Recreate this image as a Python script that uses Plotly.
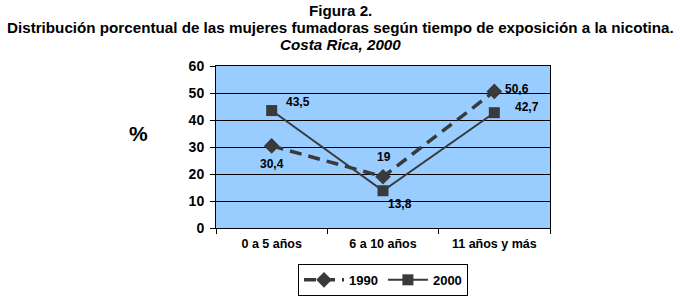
import plotly.graph_objects as go

categories = ["0 a 5 años", "6 a 10 años", "11 años y más"]
values_1990 = [30.4, 19, 50.6]
values_2000 = [43.5, 13.8, 42.7]
labels_1990 = ["30,4", "19", "50,6"]
labels_2000 = ["43,5", "13,8", "42,7"]
y_ticks = [0, 10, 20, 30, 40, 50, 60]

dark = "#3a3a3a"
font_family = "Liberation Sans, Arial, sans-serif"

fig = go.Figure()
fig.add_trace(go.Scatter(
    x=categories, y=values_1990, name="1990", mode="lines+markers",
    line=dict(color=dark, width=3.5, dash="12px,7px"),
    marker=dict(symbol="diamond", size=12, color=dark),
))
fig.add_trace(go.Scatter(
    x=categories, y=values_2000, name="2000", mode="lines+markers",
    line=dict(color=dark, width=2),
    marker=dict(symbol="square", size=11, color=dark),
))

# data labels
offs_1990 = [(0, -18), (1, 20), (23, 2)]
offs_2000 = [(26, 9), (17, -13), (33, 6)]
for c, v, t, (dx, dy) in zip(categories, values_1990, labels_1990, offs_1990):
    fig.add_annotation(x=c, y=v, text=t, showarrow=False, xshift=dx, yshift=dy,
                       font=dict(size=12, color="black", family=font_family, weight="bold"))
for c, v, t, (dx, dy) in zip(categories, values_2000, labels_2000, offs_2000):
    fig.add_annotation(x=c, y=v, text=t, showarrow=False, xshift=dx, yshift=dy,
                       font=dict(size=12, color="black", family=font_family, weight="bold"))

L, R, T, B = 216, 130, 66, 73
PW, PH = 680 - L - R, 301 - T - B

# "%" axis label
fig.add_annotation(text="%", xref="paper", yref="paper", x=(138 - L) / PW, y=(301 - B - 133) / PH,
                   showarrow=False, xanchor="center", yanchor="middle",
                   font=dict(size=21, color="black", family=font_family, weight="bold"))

# title lines
title_lines = [
    ("<b>Figura 2.</b>", 10),
    ("<b>Distribución porcentual de las mujeres fumadoras según tiempo de exposición a la nicotina.</b>", 27),
    ("<b><i>Costa Rica, 2000</i></b>", 44),
]
for txt, py in title_lines:
    fig.add_annotation(text=txt, xref="paper", yref="paper",
                       x=(340 - L) / PW, y=(301 - B - py) / PH,
                       showarrow=False, xanchor="center", yanchor="middle",
                       font=dict(size=15.2, color="black", family=font_family))

fig.update_layout(
    width=680, height=301,
    margin=dict(l=L, r=R, t=T, b=B, autoexpand=False),
    paper_bgcolor="white", plot_bgcolor="#99CCFF",
    font=dict(family=font_family, color="black", size=12),
    showlegend=True,
    legend=dict(orientation="h", x=0.5, xanchor="center", yref="container", y=0.017, yanchor="bottom",
                bordercolor="black", borderwidth=1, bgcolor="white",
                font=dict(size=13, family=font_family, weight="bold"),
                itemwidth=40),
)
fig.update_xaxes(
    type="category", range=[-0.5, 2.5], tickson="boundaries", ticks="outside", ticklen=5, tickcolor="black",
    showline=True, linecolor="black", linewidth=1, mirror=True, showgrid=False,
    tickfont=dict(size=12.5, family=font_family, weight="bold"), ticklabelstandoff=4,
)
fig.update_yaxes(
    range=[0, 60], tickvals=y_ticks, ticks="outside", ticklen=5, tickcolor="black",
    showline=True, linecolor="black", linewidth=1, mirror=True,
    showgrid=True, gridcolor="black", gridwidth=1,
    tickfont=dict(size=14, family=font_family, weight="bold"), ticklabelstandoff=3,
)

fig.write_html("out.html", config={"displayModeBar": False},
               post_script="document.body.style.margin='0';")
